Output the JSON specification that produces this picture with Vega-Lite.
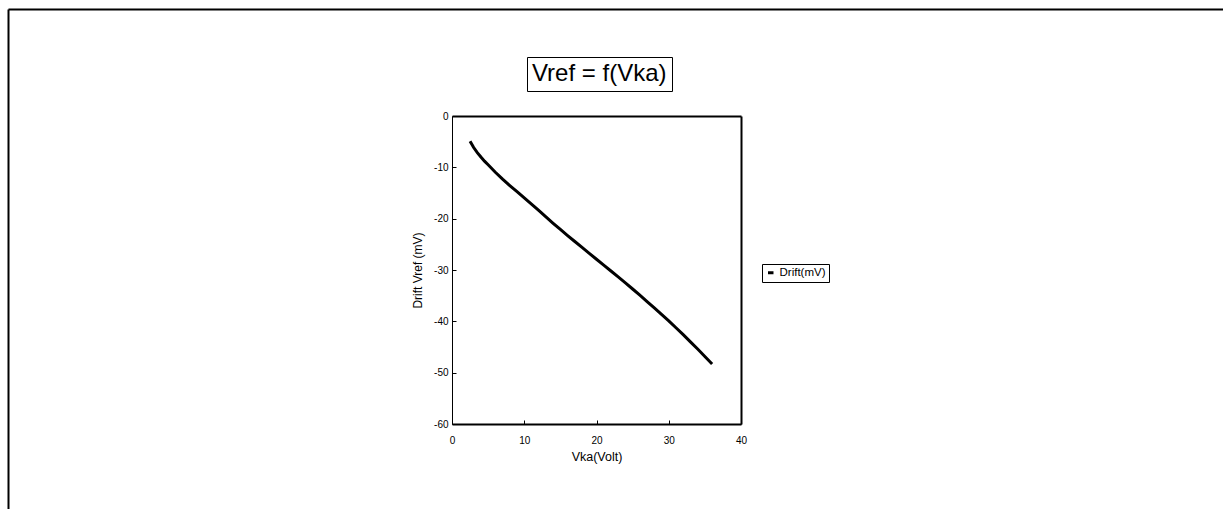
{
  "$schema": "https://vega.github.io/schema/vega-lite/v6.json",
  "autosize": {"type": "none"},
  "width": 289,
  "height": 308,
  "padding": {"left": 452, "top": 116, "right": 482, "bottom": 85},
  "background": "white",
  "config": {
    "font": "Liberation Sans",
    "view": {"stroke": null},
    "axis": {"grid": false, "labelColor": "black", "titleColor": "black", "tickColor": "black", "domainColor": "black", "titleFontWeight": "normal"}
  },
  "data": {
    "values": [
      {"Vka": 2.5, "Drift": -4.9},
      {"Vka": 3, "Drift": -6.15},
      {"Vka": 3.5, "Drift": -7.15},
      {"Vka": 4, "Drift": -8.0},
      {"Vka": 4.5, "Drift": -8.8},
      {"Vka": 5, "Drift": -9.5},
      {"Vka": 6, "Drift": -10.95},
      {"Vka": 7, "Drift": -12.3},
      {"Vka": 8, "Drift": -13.55},
      {"Vka": 9, "Drift": -14.75},
      {"Vka": 10, "Drift": -15.95},
      {"Vka": 11, "Drift": -17.15},
      {"Vka": 12, "Drift": -18.4},
      {"Vka": 13, "Drift": -19.65},
      {"Vka": 14, "Drift": -20.9},
      {"Vka": 15, "Drift": -22.1},
      {"Vka": 16, "Drift": -23.3},
      {"Vka": 17, "Drift": -24.45},
      {"Vka": 18, "Drift": -25.6},
      {"Vka": 19, "Drift": -26.75},
      {"Vka": 20, "Drift": -27.9},
      {"Vka": 21, "Drift": -29.05},
      {"Vka": 22, "Drift": -30.2},
      {"Vka": 23, "Drift": -31.35},
      {"Vka": 24, "Drift": -32.5},
      {"Vka": 25, "Drift": -33.7},
      {"Vka": 26, "Drift": -34.9},
      {"Vka": 27, "Drift": -36.15},
      {"Vka": 28, "Drift": -37.4},
      {"Vka": 29, "Drift": -38.65},
      {"Vka": 30, "Drift": -39.9},
      {"Vka": 31, "Drift": -41.25},
      {"Vka": 32, "Drift": -42.6},
      {"Vka": 33, "Drift": -44.0},
      {"Vka": 34, "Drift": -45.4},
      {"Vka": 35, "Drift": -46.85},
      {"Vka": 36, "Drift": -48.3}
    ]
  },
  "resolve": {"scale": {"x": "independent", "y": "independent"}},
  "layer": [
    {
      "mark": {"type": "line", "strokeWidth": 3},
      "encoding": {
        "x": {
          "field": "Vka", "type": "quantitative",
          "scale": {"domain": [0, 40], "nice": false, "zero": false},
          "axis": {"orient": "bottom", "values": [0, 10, 20, 30, 40], "labelExpr": "toString(datum.value)", "tickSize": -4, "labelPadding": 15, "labelFontSize": 10, "labelFlush": false, "domainWidth": 2, "title": "Vka(Volt)", "titleFontSize": 12.5, "titlePadding": 5}
        },
        "y": {
          "field": "Drift", "type": "quantitative",
          "scale": {"domain": [-60, 0], "nice": false, "zero": false},
          "axis": {"orient": "left", "values": [-60, -50, -40, -30, -20, -10, 0], "labelExpr": "toString(datum.value)", "tickSize": -4, "labelPadding": 8, "labelFontSize": 10, "labelFlush": false, "domainWidth": 1, "title": "Drift  Vref (mV)", "titleFontSize": 12, "titlePadding": 9}
        },
        "color": {
          "datum": "Drift(mV)",
          "scale": {"range": ["black"]},
          "legend": {"orient": "none", "legendX": 310, "legendY": 148, "title": null, "strokeColor": "black", "fillColor": "white", "padding": 3, "symbolType": "stroke", "symbolStrokeWidth": 3, "symbolSize": 30, "labelFontSize": 11.5, "labelColor": "black", "labelOffset": 3}
        }
      }
    },
    {
      "mark": {"type": "line", "opacity": 0},
      "encoding": {
        "x": {
          "field": "Vka", "type": "quantitative",
          "scale": {"domain": [0, 40], "nice": false, "zero": false},
          "axis": {"orient": "top", "labels": false, "ticks": false, "title": null, "domainWidth": 2}
        },
        "y": {
          "field": "Drift", "type": "quantitative",
          "scale": {"domain": [-60, 0], "nice": false, "zero": false},
          "axis": {"orient": "right", "labels": false, "ticks": false, "title": null, "domainWidth": 2}
        },
        "strokeDash": {
          "datum": "Vref = f(Vka)",
          "legend": {"orient": "none", "legendX": 75, "legendY": -59, "title": null, "strokeColor": "black", "fillColor": "white", "padding": 5, "symbolSize": 0, "symbolOpacity": 0, "labelFontSize": 24, "labelOffset": -24, "labelColor": "black"}
        }
      }
    },
    {
      "mark": {"type": "line", "opacity": 0},
      "encoding": {
        "x": {
          "field": "Vka", "type": "quantitative",
          "scale": {"domain": [0, 40], "range": [0, 1300], "nice": false, "zero": false},
          "axis": {"orient": "top", "offset": 107, "position": -444, "labels": false, "ticks": false, "title": null, "domainWidth": 2}
        },
        "y": {
          "field": "Drift", "type": "quantitative",
          "scale": {"domain": [-60, 0], "range": [600, 0], "nice": false, "zero": false},
          "axis": {"orient": "left", "offset": 444, "position": -107, "labels": false, "ticks": false, "title": null, "domainWidth": 2}
        }
      }
    }
  ]
}
